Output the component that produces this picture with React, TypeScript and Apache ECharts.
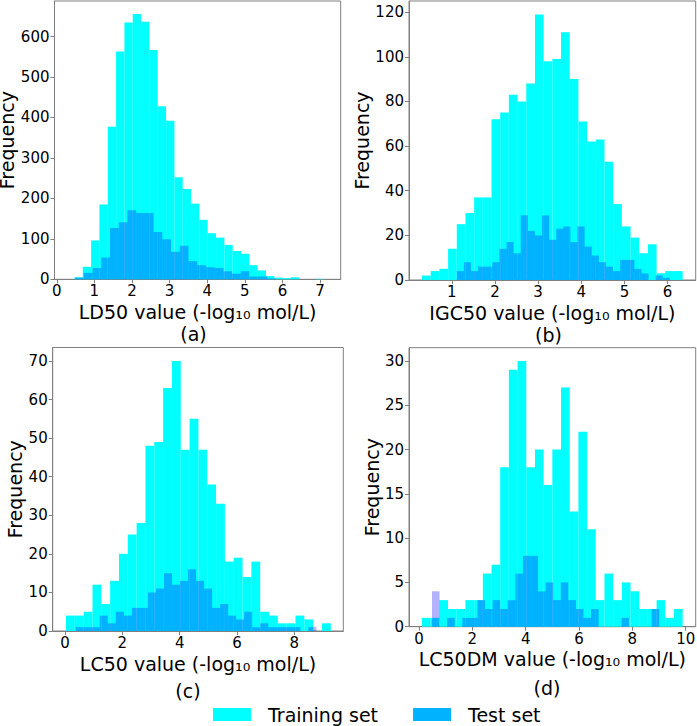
import React, { useEffect, useRef } from "react";
import * as echarts from "echarts";

// ---------- data (bin start, bin width, counts) ----------
const LD50_TRAIN_START = 0.47;
const LD50_TRAIN_WIDTH = 0.2215;
const LD50_TRAIN = [5, 31, 96, 185, 377, 563, 635, 656, 637, 567, 428, 392, 252, 223, 187, 147, 114, 103, 85, 70, 63, 35, 22, 8, 4, 3, 5, 0, 0, 1];
const LD50_TEST_START = 0.487;
const LD50_TEST_WIDTH = 0.232;
const LD50_TEST = [4, 16, 28, 54, 127, 141, 171, 164, 164, 117, 99, 68, 83, 45, 35, 30, 28, 20, 14, 20, 7, 7, 2];

const IGC50_TRAIN_START = 0.311;
const IGC50_TRAIN_WIDTH = 0.2013;
const IGC50_TRAIN = [2, 4, 5, 14, 25, 30, 37, 37, 72, 75, 83, 80, 88, 119, 98, 99, 111, 90, 71, 62, 63, 53, 34, 24, 19, 12, 16, 3, 4, 4];
const IGC50_TEST_START = 1.116;
const IGC50_TEST_WIDTH = 0.1646;
const IGC50_TEST = [4, 8, 4, 6, 6, 8, 14, 17, 12, 29, 22, 20, 29, 18, 23, 24, 17, 24, 15, 11, 8, 6, 4, 9, 9, 5, 3, 0, 2, 1];

const LC50_TRAIN_START = 0.035;
const LC50_TRAIN_WIDTH = 0.308;
const LC50_TRAIN = [4, 4, 5, 12, 7, 13, 20, 25, 28, 48, 49, 63, 70, 47, 55, 47, 38, 33, 18, 19, 14, 18, 5, 4, 2, 2, 4, 3, 0, 2];
const LC50_TEST_START = 0.372;
const LC50_TEST_WIDTH = 0.28;
const LC50_TEST = [1, 1, 1, 4, 2, 5, 4, 6, 6, 10, 11, 15, 12, 13, 16, 13, 11, 6, 7, 4, 3, 5, 1, 2, 1, 1, 1, 1, 0, 1];

const LC50DM_TRAIN_START = 0.113;
const LC50DM_TRAIN_WIDTH = 0.3258;
const LC50DM_TRAIN = [1, 1, 3, 2, 2, 3, 3, 6, 7, 18, 29, 30, 18, 20, 16, 20, 27, 13, 22, 11, 3, 6, 3, 5, 4, 2, 2, 3, 1, 2];
const LC50DM_TEST_START = 0.4875;
const LC50DM_TEST_WIDTH = 0.284;
const LC50DM_TEST = [4, 0, 1, 0, 1, 1, 3, 2, 3, 2, 3, 6, 8, 8, 4, 5, 3, 5, 3, 2, 1, 2, 0, 0, 0, 1, 0, 0, 0, 2];

// ---------- ticks ----------
const LD50_XTICKS = [0, 1, 2, 3, 4, 5, 6, 7];
const LD50_YTICKS = [0, 100, 200, 300, 400, 500, 600];
const IGC50_XTICKS = [1, 2, 3, 4, 5, 6];
const IGC50_YTICKS = [0, 20, 40, 60, 80, 100, 120];
const LC50_XTICKS = [0, 2, 4, 6, 8];
const LC50_YTICKS = [0, 10, 20, 30, 40, 50, 60, 70];
const LC50DM_XTICKS = [0, 2, 4, 6, 8, 10];
const LC50DM_YTICKS = [0, 5, 10, 15, 20, 25, 30];

const X_TITLES = [
  "LD50 value (-log₁₀ mol/L)",
  "IGC50 value (-log₁₀ mol/L)",
  "LC50 value (-log₁₀ mol/L)",
  "LC50DM value (-log₁₀ mol/L)",
];
const PANEL_LABELS = ["(a)", "(b)", "(c)", "(d)"];
const SERIES_NAMES = ["Training set", "Test set"];

// ---------- styles ----------
const FONT = "DejaVu Sans";
const TRAIN_COLOR = "#00FFFF";
const TEST_COLOR = "rgba(0,0,255,0.3)";
const TEST_LEGEND_COLOR = "#00B2FF";
const SPINE = "#808080";

function toBins(start: number, width: number, counts: number[]) {
  return counts
    .map((c, i) => [start + i * width, start + (i + 1) * width, c])
    .filter((d) => d[2] > 0);
}

const PANELS = [
  {
    grid: { left: 54.5, top: 1, width: 286.2, height: 278.3 },
    xMin: -0.06, xMax: 7.55, yMax: 688,
    xTicks: LD50_XTICKS, yTicks: LD50_YTICKS,
    train: toBins(LD50_TRAIN_START, LD50_TRAIN_WIDTH, LD50_TRAIN),
    test: toBins(LD50_TEST_START, LD50_TEST_WIDTH, LD50_TEST),
    xGap: 22.7, yGap: 31.5, label: [193.5, 334],
  },
  {
    grid: { left: 409, top: 1, width: 286.7, height: 279 },
    xMin: 0.009, xMax: 6.652, yMax: 125,
    xTicks: IGC50_XTICKS, yTicks: IGC50_YTICKS,
    train: toBins(IGC50_TRAIN_START, IGC50_TRAIN_WIDTH, IGC50_TRAIN),
    test: toBins(IGC50_TEST_START, IGC50_TEST_WIDTH, IGC50_TEST),
    xGap: 23, yGap: 34.5, label: [548.5, 335],
  },
  {
    grid: { left: 52.7, top: 347.5, width: 290.6, height: 283.5 },
    xMin: -0.43, xMax: 9.71, yMax: 73.5,
    xTicks: LC50_XTICKS, yTicks: LC50_YTICKS,
    train: toBins(LC50_TRAIN_START, LC50_TRAIN_WIDTH, LC50_TRAIN),
    test: toBins(LC50_TEST_START, LC50_TEST_WIDTH, LC50_TEST),
    xGap: 23, yGap: 27.2, label: [188, 691],
  },
  {
    grid: { left: 409, top: 347.7, width: 286.7, height: 279 },
    xMin: -0.375, xMax: 10.375, yMax: 31.5,
    xTicks: LC50DM_XTICKS, yTicks: LC50DM_YTICKS,
    train: toBins(LC50DM_TRAIN_START, LC50DM_TRAIN_WIDTH, LC50DM_TRAIN),
    test: toBins(LC50DM_TEST_START, LC50DM_TEST_WIDTH, LC50DM_TEST),
    xGap: 23, yGap: 26.5, label: [547, 687.5],
  },
];

function histSeries(name: string, idx: number, data: number[][], color: string) {
  return {
    type: "custom",
    name,
    xAxisIndex: idx,
    yAxisIndex: idx,
    data,
    encode: { x: [0, 1], y: 2 },
    renderItem: (params: any, api: any) => {
      const x0 = api.value(0);
      const x1 = api.value(1);
      const y = api.value(2);
      const p0 = api.coord([x0, y]);
      const p1 = api.coord([x1, 0]);
      return {
        type: "rect",
        shape: { x: p0[0], y: p0[1], width: p1[0] - p0[0], height: p1[1] - p0[1] },
        style: { fill: color },
      };
    },
  };
}

export default function App() {
  const ref = useRef<HTMLDivElement>(null);
  useEffect(() => {
    if (!ref.current) return;
    const chart = echarts.init(ref.current, undefined, { renderer: "svg" });
    const grids = PANELS.map((p) => ({
      ...p.grid,
      show: true,
      borderColor: SPINE,
      borderWidth: 1,
      backgroundColor: "transparent",
      containLabel: false,
      outerBoundsMode: "none",
    }));
    const xAxes = PANELS.map((p, i) => ({
      type: "value",
      gridIndex: i,
      min: p.xMin,
      max: p.xMax,
      axisLine: { show: true, onZero: false, lineStyle: { color: SPINE, width: 1 } },
      axisTick: { show: true, customValues: p.xTicks, length: 4, lineStyle: { color: SPINE } },
      axisLabel: { customValues: p.xTicks, margin: 4.5, fontSize: 15, lineHeight: 15, color: "#000", fontFamily: FONT },
      splitLine: { show: false },
      name: X_TITLES[i],
      nameLocation: "middle",
      nameGap: p.xGap,
      nameTextStyle: { fontSize: 19, lineHeight: 19, color: "#000", fontFamily: FONT },
    }));
    const yAxes = PANELS.map((p, i) => ({
      type: "value",
      gridIndex: i,
      min: 0,
      max: p.yMax,
      axisLine: { show: true, onZero: false, lineStyle: { color: SPINE, width: 1 } },
      axisTick: { show: true, customValues: p.yTicks, length: 4, lineStyle: { color: SPINE } },
      axisLabel: { customValues: p.yTicks, margin: 5, fontSize: 15, lineHeight: 15, color: "#000", fontFamily: FONT },
      splitLine: { show: false },
      name: "Frequency",
      nameLocation: "middle",
      nameRotate: 90,
      nameGap: p.yGap,
      nameTextStyle: { fontSize: 19, lineHeight: 19, color: "#000", fontFamily: FONT },
    }));
    const series: any[] = [];
    PANELS.forEach((p, i) => {
      series.push(histSeries(SERIES_NAMES[0], i, p.train, TRAIN_COLOR));
      series.push(histSeries(SERIES_NAMES[1], i, p.test, TEST_COLOR));
    });
    chart.setOption({
      animation: false,
      backgroundColor: "#fff",
      grid: grids,
      xAxis: xAxes,
      yAxis: yAxes,
      series,
      legend: {
        left: 213,
        top: 705,
        padding: 0,
        icon: "rect",
        itemWidth: 38,
        itemHeight: 13,
        itemGap: 35,
        selectedMode: false,
        textStyle: { fontSize: 19, lineHeight: 19, color: "#000", fontFamily: FONT, padding: [0, 0, 0, 12] },
        data: [
          { name: SERIES_NAMES[0], itemStyle: { color: TRAIN_COLOR } },
          { name: SERIES_NAMES[1], itemStyle: { color: TEST_LEGEND_COLOR } },
        ],
      },
      graphic: PANELS.map((p, i) => ({
        type: "text",
        x: p.label[0],
        y: p.label[1],
        style: {
          text: PANEL_LABELS[i],
          fontSize: 19,
          fontFamily: FONT,
          fill: "#000",
          align: "center",
          verticalAlign: "middle",
        },
      })),
    });
    return () => chart.dispose();
  }, []);
  return (
    <div
      ref={ref}
      style={{ position: "fixed", left: 0, top: 0, width: 697, height: 726 }}
    />
  );
}
